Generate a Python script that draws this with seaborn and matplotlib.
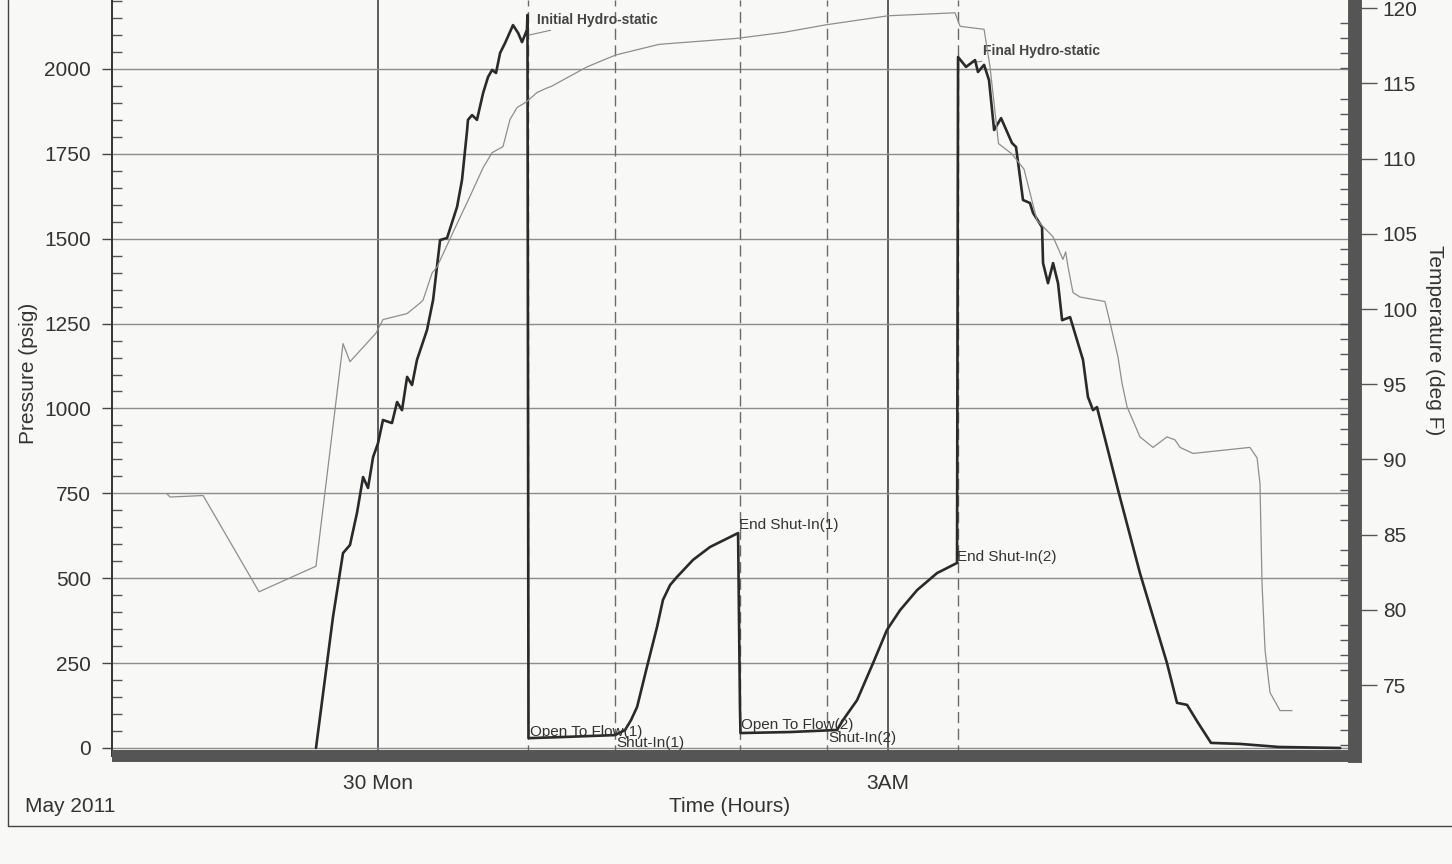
import matplotlib
matplotlib.use("Agg")
import matplotlib.pyplot as plt
import seaborn as sns
import pandas as pd
from matplotlib.ticker import MultipleLocator, FixedLocator
from matplotlib.lines import Line2D

# ---------------- data (x in hours relative to 30 Mon 00:00) ----------------
pressure_hours = [-0.365, -0.265, -0.206, -0.165, -0.124, -0.088, -0.059, -0.029, 0.0,
                  0.029, 0.082, 0.112, 0.141, 0.171, 0.2, 0.229, 0.288, 0.324, 0.365,
                  0.406, 0.465, 0.494, 0.524, 0.529, 0.553, 0.582, 0.618, 0.647, 0.671,
                  0.694, 0.718, 0.747, 0.794, 0.824, 0.847, 0.876, 0.879, 0.885, 1.071,
                  1.394, 1.453, 1.488, 1.524, 1.582, 1.641, 1.676, 1.718, 1.759, 1.853, 1.953, 2.118,
                  2.129, 2.132, 2.424, 2.7, 2.735, 2.818, 2.912, 2.994, 3.071, 3.171, 3.288,
                  3.406, 3.412, 3.459, 3.512, 3.529, 3.565, 3.594, 3.624, 3.665, 3.729,
                  3.753, 3.794, 3.835, 3.853, 3.906, 3.912, 3.941, 3.971, 4.0, 4.024,
                  4.071, 4.147, 4.176, 4.206, 4.229, 4.353, 4.482, 4.641, 4.7, 4.759,
                  4.824, 4.9, 5.071, 5.30, 5.66]
pressure_psig = [0, 386, 574, 598, 692, 798, 766, 857, 898,
                 966, 957, 1019, 995, 1093, 1069, 1143, 1231, 1320, 1496,
                 1502, 1594, 1673, 1820, 1850, 1864, 1850, 1929, 1976, 1997,
                 1988, 2047, 2076, 2129, 2106, 2079, 2115, 2159, 29, 32,
                 38, 53, 82, 121, 239, 356, 436, 480, 504, 554, 592, 633,
                 121, 44, 47, 53, 82, 141, 250, 348, 406, 465, 515,
                 545, 2035, 2006, 2026, 1991, 2012, 1967, 1820, 1855, 1782,
                 1770, 1614, 1605, 1576, 1534, 1428, 1369, 1428, 1369, 1260,
                 1269, 1143, 1034, 995, 1004, 760, 515, 250, 133, 127,
                 74, 15, 12, 3, 0]

temp_hours = [-1.241, -1.224, -1.029, -0.700, -0.365, -0.206, -0.165, -0.012, 0.029, 0.171,
              0.247, 0.265, 0.318, 0.347, 0.441, 0.541, 0.618, 0.671, 0.735, 0.776,
              0.818, 0.876, 0.935, 0.994, 1.018, 1.229, 1.335, 1.400, 1.653, 2.112,
              2.388, 2.635, 3.000, 3.394, 3.424, 3.565, 3.600, 3.650, 3.730, 3.800,
              3.876, 3.971, 4.029, 4.045, 4.059, 4.088, 4.129, 4.276, 4.306, 4.353,
              4.376, 4.406, 4.482, 4.559, 4.641, 4.688, 4.718, 4.794, 5.129, 5.171,
              5.188, 5.200, 5.218, 5.247, 5.306, 5.376]
temp_degF = [87.7, 87.5, 87.6, 81.2, 82.9, 97.7, 96.5, 98.4, 99.3, 99.7,
             100.4, 100.6, 102.4, 102.8, 105.1, 107.5, 109.4, 110.4, 110.8, 112.6,
             113.4, 113.8, 114.4, 114.7, 114.8, 116.1, 116.6, 116.9, 117.6, 118.0,
             118.4, 118.9, 119.5, 119.7, 118.8, 118.6, 116.1, 111.0, 110.3, 109.3,
             105.9, 104.8, 103.3, 103.8, 102.8, 101.1, 100.8, 100.5, 99.1, 96.8,
             95.1, 93.5, 91.5, 90.8, 91.5, 91.3, 90.8, 90.4, 90.8, 90.1,
             88.4, 81.8, 77.3, 74.5, 73.3, 73.3]

event_hours = [0.885, 1.394, 2.129, 2.641, 3.412]

x_tick_hours = [0, 3]
x_tick_labels = ["30 Mon", "3AM"]
x_minor_hours = [-1, 1, 2, 4, 5]

pdf = pd.DataFrame({"hours": pressure_hours, "psig": pressure_psig})
tdf = pd.DataFrame({"hours": temp_hours, "degF": temp_degF})

# ---------------- style ----------------
sns.set_style("white")
plt.rcParams["font.family"] = ["Liberation Sans", "DejaVu Sans"]
bg = "#f8f8f6"

fig = plt.figure(figsize=(14.52, 8.64), dpi=100, facecolor=bg)
W, H = 1452.0, 864.0
ax = fig.add_axes([112 / W, 1 - 756 / H, (1355 - 112) / W, 756 / H])
ax.set_facecolor(bg)
ax2 = ax.twinx()

ax.set_xlim(-1.565, 5.747)
ax.set_ylim(-23.6, 2203)
ax2.set_ylim(70.28, 120.55)

# grid
ax.set_yticks(range(0, 2001, 250))
ax.yaxis.set_minor_locator(MultipleLocator(50))
ax.set_xticks(x_tick_hours)
ax.set_xticklabels(x_tick_labels)
ax.xaxis.set_minor_locator(FixedLocator(x_minor_hours))
ax.yaxis.grid(True, which="major", color="#8c8c8c", lw=1.0)
ax.xaxis.grid(True, which="major", color="#505050", lw=1.3)
ax.set_axisbelow(True)

# event lines
for h in event_hours:
    ax.axvline(h, color="#6a6a6a", lw=1.0, ls=(0, (8, 4)), zorder=1)

# curves
sns.lineplot(data=pdf, x="hours", y="psig", ax=ax, color="#2a2a2a", lw=1.9,
             sort=False, estimator=None, zorder=4)
sns.lineplot(data=tdf, x="hours", y="degF", ax=ax2, color="#8e8e8e", lw=0.9,
             sort=False, estimator=None, zorder=3)

# spines
for s in ["top", "right"]:
    ax.spines[s].set_visible(False)
for s in ["top", "left", "bottom"]:
    ax2.spines[s].set_visible(False)
ax.spines["left"].set_color("#333333")
ax.spines["left"].set_linewidth(1.4)
ax.spines["bottom"].set_color("#555555")
ax.spines["bottom"].set_linewidth(8.6)
ax.spines["bottom"].set_capstyle("butt")
ax2.spines["right"].set_color("#555555")
ax2.spines["right"].set_linewidth(10)

# ticks
ax.tick_params(axis="y", which="major", direction="out", length=7, width=1.0,
               color="#444444", labelsize=15, labelcolor="#333333", pad=8)
ax.tick_params(axis="y", which="minor", direction="in", length=7, width=1.0, color="#555555")
ax.tick_params(axis="x", which="major", direction="out", length=10, width=1.2,
               color="#444444", labelsize=15, labelcolor="#333333", pad=3)
ax.tick_params(axis="x", which="minor", direction="in", length=12, width=1.2, color="#444444")

ax2.set_yticks(range(75, 121, 5))
ax2.yaxis.set_minor_locator(MultipleLocator(1))
ax2.tick_params(axis="y", which="major", direction="out", length=16, width=1.0,
                color="#555555", labelsize=15, labelcolor="#333333", pad=4)
ax2.tick_params(axis="y", which="minor", direction="in", length=11, width=1.0, color="#555555")

# labels
ax.set_xlabel("Time (Hours)", fontsize=15, color="#333333")
ax.xaxis.set_label_coords((730 - 112) / 1243, (756 - 806) / 756)
ax.xaxis.label.set_va("center")
ax.set_ylabel("Pressure (psig)", fontsize=15, color="#333333")
ax.yaxis.set_label_coords((28 - 112) / 1243, (756 - 373) / 756)
ax.yaxis.label.set_va("center")
ax.yaxis.label.set_ha("center")
ax2.set_ylabel("Temperature (deg F)", fontsize=15, color="#333333", rotation=270)
ax2.yaxis.set_label_coords((1434 - 112) / 1243, (756 - 340) / 756)
ax2.yaxis.label.set_va("center")
ax2.yaxis.label.set_ha("center")

fig.text(25 / W, 1 - 806 / H, "May 2011", fontsize=15, color="#333333", va="center", ha="left")

# annotations
ann_kw = dict(fontsize=11, color="#333333", va="center", ha="left", zorder=6)
ax.annotate("Initial Hydro-static", xy=(0.89, 2100), xytext=(0.935, 2144),
            fontsize=10, fontweight="bold", color="#444444", va="center", ha="left",
            arrowprops=dict(arrowstyle="-", color="#888888", lw=0.8, shrinkA=0, shrinkB=0))
ax.annotate("Final Hydro-static", xy=(3.52, 2020), xytext=(3.559, 2053),
            fontsize=10, fontweight="bold", color="#444444", va="center", ha="left",
            arrowprops=dict(arrowstyle="-", color="#888888", lw=0.8, shrinkA=0, shrinkB=0))
ax.text(2.124, 657, "End Shut-In(1)", **ann_kw)
ax.text(3.406, 563, "End Shut-In(2)", **ann_kw)
ax.text(0.894, 46, "Open To Flow(1)", **ann_kw)
ax.text(1.40, 15, "Shut-In(1)", **ann_kw)
ax.text(2.135, 67, "Open To Flow(2)", **ann_kw)
ax.text(2.647, 29, "Shut-In(2)", **ann_kw)

# outer frame of the report
fig.add_artist(Line2D([8 / W, 8 / W], [1.0, 1 - 826 / H], color="#444444", lw=1.0))
fig.add_artist(Line2D([8 / W, 1.0], [1 - 826 / H, 1 - 826 / H], color="#444444", lw=1.0))

fig.savefig("out.png", dpi=100, facecolor=bg)
